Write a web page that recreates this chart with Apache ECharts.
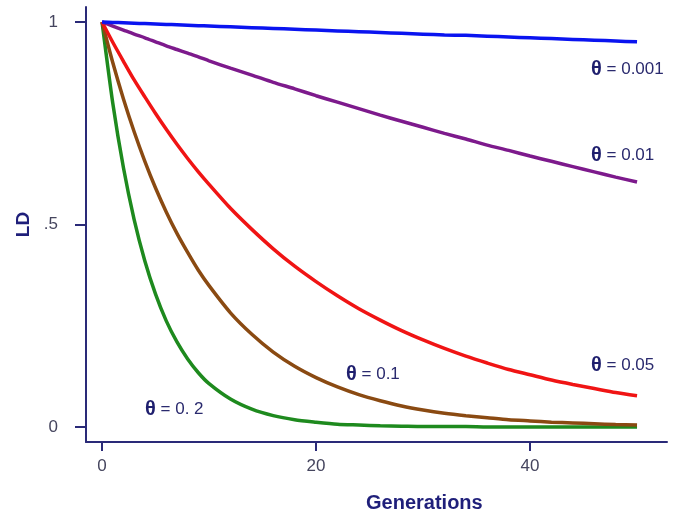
<!DOCTYPE html>
<html><head><meta charset="utf-8">
<script src="https://cdn.jsdelivr.net/npm/echarts@6/dist/echarts.min.js"></script>
<style>html,body{margin:0;padding:0;background:#fff}#c{width:673px;height:517px}</style>
</head><body><div id="c"></div>
<script>
const generations = [0,1,2,3,4,5,6,7,8,9,10,12,14,16,18,20,22,24,26,28,30,32,34,36,38,40,42,44,46,48,50];
const ld0001 = [1,.999,.998,.997,.996,.995,.994,.993,.992,.991,.990,.988,.986,.984,.982,.980,.978,.976,.974,.972,.970,.968,.967,.965,.963,.961,.959,.957,.955,.953,.951];
const ld001 = [1,.990,.980,.970,.961,.951,.941,.932,.923,.914,.904,.886,.869,.851,.835,.818,.802,.786,.770,.755,.740,.725,.711,.696,.683,.669,.656,.643,.630,.617,.605];
const ld005 = [1,.950,.903,.857,.815,.774,.735,.698,.663,.630,.599,.540,.488,.440,.397,.359,.324,.292,.264,.238,.215,.194,.175,.158,.142,.129,.116,.105,.095,.085,.077];
const ld01 = [1,.900,.810,.729,.656,.590,.531,.478,.431,.387,.349,.282,.229,.185,.150,.122,.099,.080,.065,.052,.042,.034,.028,.023,.018,.015,.012,.010,.008,.006,.005];
const ld02 = [1,.800,.640,.512,.410,.328,.262,.210,.168,.134,.107,.069,.044,.028,.018,.012,.007,.005,.003,.002,.001,.001,.001,0,0,0,0,0,0,0,0];
const seriesNames = ['θ = 0.001','θ = 0.01','θ = 0.05','θ = 0.1','θ = 0. 2'];
const seriesValues = [ld0001, ld001, ld005, ld01, ld02];
const seriesColors = ['#0a14f0','#7d1a8c','#f01414','#8a4a12','#1e8a1e'];
const xTicks = [0,20,40];
const yTicks = [0,0.5,1];
const yTickLabels = {0:'0',0.5:'.5',1:'1'};
const labelPos = [[591,69],[591,155],[591,365],[346,374],[145,409]];

const axisColor = '#2a2a78';
const chart = echarts.init(document.getElementById('c'));
chart.setOption({
  animation:false,
  backgroundColor:'#fff',
  grid:{left:86,top:7,right:6,bottom:75,containLabel:false},
  xAxis:{type:'value',min:-1.5,max:52.8,
    axisLine:{show:true,onZero:false,lineStyle:{color:axisColor,width:2}},
    axisTick:{show:true,length:9,lineStyle:{color:axisColor,width:2},customValues:xTicks},
    axisLabel:{show:true,customValues:xTicks,margin:16,fontSize:17,color:'#45455e',fontFamily:'Liberation Sans'},
    splitLine:{show:false}},
  yAxis:{type:'value',min:-0.037,max:1.037,
    name:'LD',nameLocation:'middle',nameGap:47,nameRotate:90,
    nameTextStyle:{fontSize:19,fontWeight:'bold',color:'#1f1f7a',fontFamily:'Liberation Sans'},
    axisLine:{show:true,onZero:false,lineStyle:{color:axisColor,width:2}},
    axisTick:{show:true,length:11,lineStyle:{color:axisColor,width:2},customValues:yTicks},
    axisLabel:{show:true,customValues:yTicks,margin:28,fontSize:17,color:'#45455e',fontFamily:'Liberation Sans',
      padding:[4,0,0,0],
      formatter:v=>yTickLabels[v]!==undefined?yTickLabels[v]:''},
    splitLine:{show:false}},
  series: seriesValues.map((vals,i)=>({
    type:'line',name:seriesNames[i],
    data: generations.map((g,j)=>[g,vals[j]]),
    showSymbol:false,smooth:0.25,
    lineStyle:{color:seriesColors[i],width:3.5},
    z:10-i
  })),
  graphic:[
    {type:'text',left:366,top:493,style:{text:'Generations',font:'bold 20px "Liberation Sans"',fill:'#1f1f7a'}}
  ].concat(seriesNames.map((n,i)=>({
    type:'text',x:labelPos[i][0],y:labelPos[i][1],
    style:{text:'{t|θ}{v|'+n.slice(1)+'}',verticalAlign:'middle',
      rich:{t:{font:'bold 20px "Liberation Sans"',fill:'#1f1f6e'},v:{font:'17px "Liberation Sans"',fill:'#2a2a6e'}}}
  })))
});
</script></body></html>
